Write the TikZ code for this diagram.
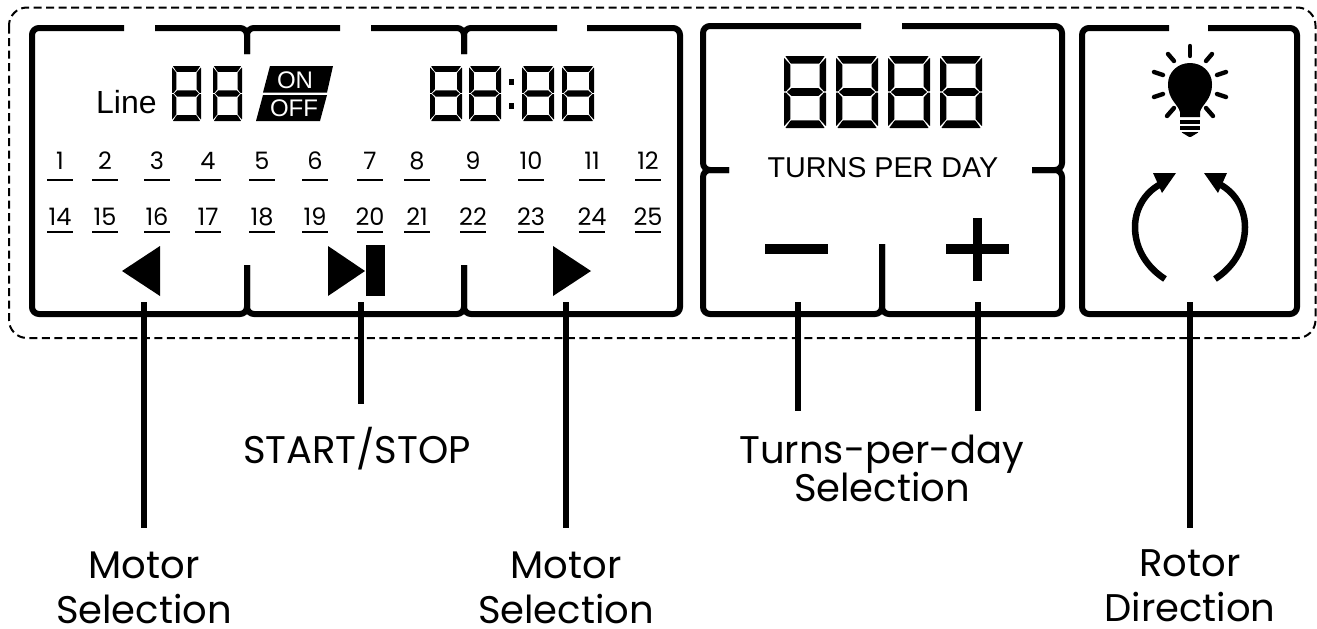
\documentclass[tikz,border=0pt]{standalone}
\usepackage{fontspec}
\setmainfont{Liberation Sans}
\newfontfamily\popfont{Poppins}
\newcommand{\fsz}[1]{\fontsize{#1}{#1}\selectfont}
\newcommand{\segdigit}[4]{%
\begin{scope}[shift={(#1,#2)},xscale=#3,yscale=#4]
\fill[rounded corners=0.5pt] (.03,0)--(.97,0)--(.84,.105)--(.16,.105)--cycle;
\fill[rounded corners=0.5pt] (.16,.895)--(.84,.895)--(.97,1)--(.03,1)--cycle;
\fill (.07,.5)--(.18,.445)--(.82,.445)--(.93,.5)--(.82,.555)--(.18,.555)--cycle;
\fill[rounded corners=0.4pt] (0,.025)--(.15,.12)--(.15,.425)--(.05,.49)--(0,.49)--cycle;
\fill[rounded corners=0.4pt] (1,.025)--(.85,.12)--(.85,.425)--(.95,.49)--(1,.49)--cycle;
\fill[rounded corners=0.4pt] (0,.51)--(.05,.51)--(.15,.575)--(.15,.88)--(0,.975)--cycle;
\fill[rounded corners=0.4pt] (1,.51)--(.95,.51)--(.85,.575)--(.85,.88)--(1,.975)--cycle;
\end{scope}}
\tikzset{
  panel/.style={line width=6pt,rounded corners=7pt,black},
  lead/.style={line width=6pt,black},
  tick/.style={line width=2pt,black},
  ray/.style={line width=4.4pt,line cap=round,black},
  numtxt/.style={font=\popfont\fsz{24},inner sep=0pt,anchor=base},
  lab/.style={font=\popfont\fsz{38.5},inner sep=0pt,align=center,anchor=base},
}
\begin{document}
\begin{tikzpicture}[x=1pt,y=-1pt]
\useasboundingbox (0,0) rectangle (1317,629);
\fill[white] (0,0) rectangle (1317,629);
\draw[line width=2pt,rounded corners=18pt,dash pattern=on 8pt off 4.5pt] (9,7.5) rectangle (1315.5,338);
% panel 1
\draw[panel] (124,28) -- (32,28) -- (32,314) -- (247,314) -- (247,265);
\draw[panel] (155,28) -- (247,28) -- (247,54);
\draw[panel] (340,28) -- (247,28) -- (247,54);
\draw[panel] (371,28) -- (464,28) -- (464,54);
\draw[panel] (557,28) -- (464,28) -- (464,54);
\draw[panel] (464,265) -- (464,314) -- (247,314) -- (247,265);
\draw[panel] (464,265) -- (464,314) -- (680,314) -- (680,28) -- (587,28);
% panel 2
\draw[panel] (861,26) -- (703,26) -- (703,170) -- (729,170);
\draw[panel] (729,170) -- (703,170) -- (703,314) -- (882,314) -- (882,244);
\draw[panel] (902,26) -- (1062,26) -- (1062,170) -- (1032,170);
\draw[panel] (1032,170) -- (1062,170) -- (1062,314) -- (882,314) -- (882,244);
% panel 3
\draw[panel] (1169,28) -- (1082,28) -- (1082,314) -- (1297,314) -- (1297,28) -- (1208,28);
% line + displays
\node[font=\fsz{32},inner sep=0pt,anchor=base west] (line) at (96,113) {Line};
\segdigit{172}{66}{29}{55}
\segdigit{213}{66}{29}{55}
\fill (270,66)--(333,66)--(327,92.5)--(263,92.5)--cycle;
\fill (263,95)--(327,95)--(320,121)--(256,121)--cycle;
\node[font=\fsz{24},text=white,inner sep=0pt] (on) at (295,80) {ON};
\node[font=\fsz{24},text=white,inner sep=0pt] (off) at (294,108) {OFF};
\segdigit{430}{66}{32}{55}
\segdigit{469}{66}{32}{55}
\fill (508.5,79)rectangle(514,85);
\fill (508.5,103)rectangle(514,109);
\segdigit{522}{66}{32}{55}
\segdigit{562}{66}{32}{55}
% numbers
\foreach \x/\a/\b in {60/1/14,105/2/15,157/3/16,208/4/17,262/5/18,315/6/19,370/7/20,417/8/21,473/9/22,531/10/23,592/11/24,648/12/25}{
  \node[numtxt] (n\a) at (\x,169) {\a};
  \node[numtxt] (n\b) at (\x,225) {\b};
  \draw[tick] (\x-13,180) -- (\x+13,180);
  \draw[tick] (\x-13,232) -- (\x+13,232);
}
% triangles
\fill (122,271)--(160,246)--(160,296)--cycle;
\fill (328,246)--(365,271)--(328,296)--cycle;
\fill (366,245) rectangle (385,296);
\fill (553,246)--(591,271)--(553,296)--cycle;
% turns display
\segdigit{784}{56}{42}{72}
\segdigit{836}{56}{42}{72}
\segdigit{888}{56}{42}{72}
\segdigit{940}{56}{42}{72}
\node[font=\fsz{28.7},inner sep=0pt,anchor=base] (tpd) at (883,177) {TURNS PER DAY};
\fill (765,244) rectangle (828,254);
\fill (946,244) rectangle (1009,254);
\fill (973,218) rectangle (982,281);
% bulb
\fill (1180,117) -- (1180,112) .. controls (1178,104) and (1168,100) .. (1168,84) .. controls (1168,72) and (1178,63) .. (1190,63) .. controls (1202,63) and (1212,72) .. (1212,84) .. controls (1212,100) and (1202,104) .. (1200,112) -- (1200,117) -- cycle;
\fill (1180,120) rectangle (1200,124);
\fill (1180,126) rectangle (1200,130);
\fill[rounded corners=1pt] (1181,132) -- (1199,132) -- (1190,137.5) -- cycle;
\draw[ray] (1190,46) -- (1190,56);
\draw[ray] (1168,54) -- (1174,61);
\draw[ray] (1212,54) -- (1206,61);
\draw[ray] (1154,72) -- (1163,75);
\draw[ray] (1226,72) -- (1217,75);
\draw[ray] (1154,97) -- (1163,94);
\draw[ray] (1226,97) -- (1217,94);
\draw[ray] (1167,116) -- (1174,108);
\draw[ray] (1213,116) -- (1206,108);
% rotation arrows
\draw[line width=6.5pt] (1165,279) .. controls (1148,268) and (1135,250) .. (1135,227) .. controls (1135,207) and (1147,190) .. (1163,183);
\draw[line width=6.5pt] (1215,279) .. controls (1232,268) and (1245,250) .. (1245,227) .. controls (1245,207) and (1233,190) .. (1217,183);
\fill (1176,173) -- (1153,173) -- (1162,193) -- cycle;
\fill (1204,173) -- (1227,173) -- (1218,193) -- cycle;
% labels
\node[lab] (sel1a) at (144,578) {Motor};
\node[lab] (sel1b) at (144,623) {Selection};
\node[lab] (ss) at (357,463) {START/STOP};
\node[lab] (sel2a) at (566,578) {Motor};
\node[lab] (sel2b) at (566,623) {Selection};
\node[lab] (tpa) at (882,463) {Turns-per-day};
\node[lab] (tpb) at (882,501) {Selection};
\node[lab] (rota) at (1190,576) {Rotor};
\node[lab] (rotb) at (1190,621) {Direction};
% connectors
\coordinate (c1) at (144,302); \coordinate (c1e) at (144,528);
\coordinate (c2) at (361,302); \coordinate (c2e) at (361,404);
\coordinate (c3) at (566,302); \coordinate (c3e) at (566,528);
\coordinate (c4) at (798,302); \coordinate (c4e) at (798,411);
\coordinate (c5) at (978,302); \coordinate (c5e) at (978,411);
\coordinate (c6) at (1190,302); \coordinate (c6e) at (1190,528);
\foreach \c in {1,...,6}{\draw[lead] (c\c) -- (c\c e);}
\end{tikzpicture}
\end{document}
